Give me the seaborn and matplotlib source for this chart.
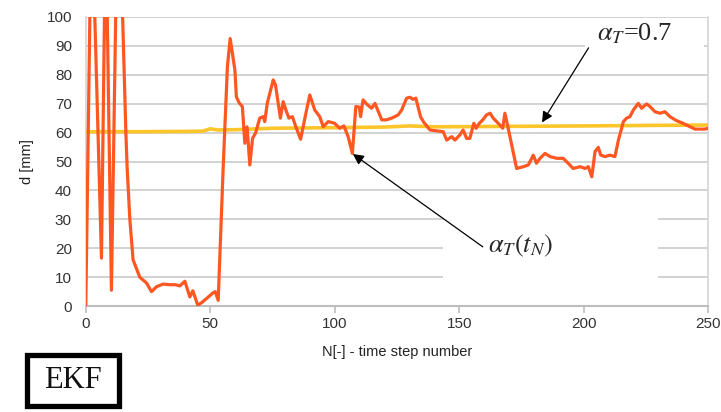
import pandas as pd
import matplotlib
matplotlib.use("Agg")
import matplotlib.pyplot as plt
import seaborn as sns
from matplotlib.patches import Rectangle

# --- dati (EKF) ---
step_est = [0, 2.3, 6.3, 8.0, 10.3, 13.0, 16.1, 16.6, 17.7, 19.0, 21.7, 24.4, 26.4,
            28.4, 31.0, 34.0, 36.0, 37.8, 39.8, 41.8, 43.0, 45.0, 47.0, 49.0, 51.0,
            52.0, 53.2, 55.2, 56.9, 58.0, 59.9, 60.5, 61.6, 62.9, 63.9, 64.8, 65.9,
            67.0, 68.2, 69.9, 71.3, 71.9, 72.9, 75.3, 76.2, 77.3, 78.2, 79.3, 80.4,
            81.6, 83.0, 84.4, 86.3, 88.7, 90.0, 92.0, 94.0, 95.4, 97.4, 100.0, 102.0,
            103.7, 105.4, 107.1, 108.5, 109.9, 110.4, 111.4, 112.8, 114.8, 116.2,
            118.9, 120.8, 122.9, 125.5, 126.9, 128.9, 130.2, 131.5, 132.6, 134.5,
            135.6, 138.3, 143.6, 145.0, 147.0, 148.3, 150.3, 151.6, 153.0, 154.3,
            155.9, 156.8, 158.1, 159.5, 161.0, 162.4, 163.7, 166.4, 167.5, 168.4,
            169.7, 171.1, 173.1, 175.8, 177.8, 179.8, 181.1, 182.5, 184.5, 186.5,
            189.2, 191.8, 193.8, 195.8, 198.6, 200.6, 201.9, 203.3, 204.6, 205.9,
            206.9, 208.6, 210.6, 212.6, 214.0, 216.0, 217.3, 218.6, 220.0, 222.0,
            223.3, 225.3, 226.7, 228.7, 230.7, 232.7, 234.7, 237.4, 240.0, 242.8,
            244.8, 248.8, 250.0]
d_est = [0, 141, 16.6, 135, 5.5, 155, 60, 48, 30, 16, 10, 8, 5,
         6.7, 7.6, 7.4, 7.4, 7.0, 8.6, 3.2, 5.3, 0.3, 1.5, 3.0, 4.5,
         5.0, 2.0, 48, 82.8, 92.5, 81.7, 72.4, 70.3, 69, 56.3, 62, 48.8,
         58, 59.8, 65, 65.5, 63.8, 70.1, 78.2, 76.5, 70.1, 65, 70.7, 67.8,
         65, 65.5, 62, 57.7, 67.8, 73, 67.8, 65.5, 62, 63.8, 63.2, 61.5,
         62.3, 58.6, 52.8, 69, 68.8, 65.5, 71.3, 69.9, 68.4, 70.1,
         64.4, 64.4, 65, 66.1, 67.8, 71.9, 72.2, 71.5, 71.9, 65.5,
         63.8, 60.9, 60.3, 57.4, 58.6, 57.4, 59.2, 60.9, 58.0, 58.0,
         63.2, 61.5, 63.2, 64.4, 66.1, 66.7, 65.0, 62.6, 61.5, 66.7,
         61.5, 55.7, 47.6, 48.2, 48.8, 52.2, 49.4, 51.1, 52.8, 51.7,
         51.1, 51.1, 49.4, 47.6, 48.2, 47.6, 48.2, 44.7, 53.4, 54.9,
         52.2, 51.7, 52.2, 51.7, 57.4, 63.8, 65.0, 65.5, 67.8, 70.1,
         68.4, 69.9, 69.0, 67.2, 66.7, 67.2, 65.5, 64.1, 63.2, 62.0,
         61.2, 61.2, 61.5]

step_ref = [0, 20, 40, 47, 50, 53, 60, 75, 100, 120, 130, 140, 160, 200, 230, 250]
d_ref = [60.3, 60.3, 60.4, 60.5, 61.3, 60.9, 61.0, 61.5, 61.7, 61.9, 62.3, 62.0,
         62.1, 62.3, 62.5, 62.6]

x_ticks = [0, 50, 100, 150, 200, 250]
y_ticks = [0, 10, 20, 30, 40, 50, 60, 70, 80, 90, 100]

df_est = pd.DataFrame({"N": step_est, "d": d_est})
df_ref = pd.DataFrame({"N": step_ref, "d": d_ref})

# --- stile ---
sns.set_theme(style="white")
plt.rcParams["font.family"] = ["Liberation Sans", "DejaVu Sans"]
plt.rcParams["mathtext.fontset"] = "stix"

fig, ax = plt.subplots(figsize=(7.21, 4.12), dpi=100)
fig.subplots_adjust(left=0.119, right=0.982, top=0.959, bottom=0.257)

sns.lineplot(data=df_ref, x="N", y="d", color="#fcc52a", lw=2.6,
             estimator=None, sort=False, ax=ax, zorder=3)
sns.lineplot(data=df_est, x="N", y="d", color="#ff5722", lw=2.3,
             estimator=None, sort=False, ax=ax, zorder=4)

ax.set_xlim(0, 250)
ax.set_ylim(0, 100)
ax.set_xticks(x_ticks)
ax.set_yticks(y_ticks)

ax.yaxis.grid(True, color="#cfcfcf", lw=1.3)
ax.xaxis.grid(False)
ax.set_axisbelow(True)

for side in ["left", "right"]:
    ax.spines[side].set_color("#d4d4d4")
    ax.spines[side].set_linewidth(1.2)
ax.spines["top"].set_visible(False)
ax.spines["bottom"].set_color("#bdbdbd")
ax.spines["bottom"].set_linewidth(1.5)

ax.tick_params(axis="x", bottom=True, length=5, width=1.2, color="#bdbdbd",
               pad=3, labelsize=11, labelcolor="#333333")
ax.tick_params(axis="y", left=False, length=0, pad=10, labelsize=11,
               labelcolor="#333333")

ax.set_xlabel("N[-] - time step number", fontsize=10.5, color="#222222", labelpad=10)
ax.set_ylabel("d [mm]", fontsize=10.5, color="#222222", labelpad=9)

# maschere bianche sotto le etichette (come nell'originale)
ax.add_patch(Rectangle((0.574, 0.048), 0.346, 0.32, transform=ax.transAxes,
                       facecolor="white", edgecolor="none", zorder=2))
ax.add_patch(Rectangle((0.802, 0.865), 0.192, 0.11, transform=ax.transAxes,
                       facecolor="white", edgecolor="none", zorder=2))

arrow = dict(arrowstyle="-|>", color="black", lw=0.9, mutation_scale=16,
             shrinkA=0, shrinkB=0)

ax.text(220.5, 94.3, r"$\alpha_T$=0.7", fontsize=19, family="Liberation Serif",
        ha="center", va="center", zorder=6)
ax.annotate("", xy=(183.3, 63.5), xytext=(202.0, 89.3), arrowprops=arrow, zorder=6)

ax.text(174.5, 21.0, r"$\alpha_T(t_N)$", fontsize=19, ha="center", va="center",
        zorder=6)
ax.annotate("", xy=(107.3, 52.6), xytext=(159.5, 20.5), arrowprops=arrow, zorder=6)

# riquadro EKF
fig.patches.append(Rectangle((27.5 / 721, 6 / 412), 91 / 721, 51 / 412,
                             transform=fig.transFigure, fill=False,
                             edgecolor="black", lw=3.8))
fig.text(73 / 721, 1 - 381 / 412, "EKF", fontsize=22, family="Liberation Serif",
         ha="center", va="center", color="#111111")

plt.savefig("out.png", dpi=100)
